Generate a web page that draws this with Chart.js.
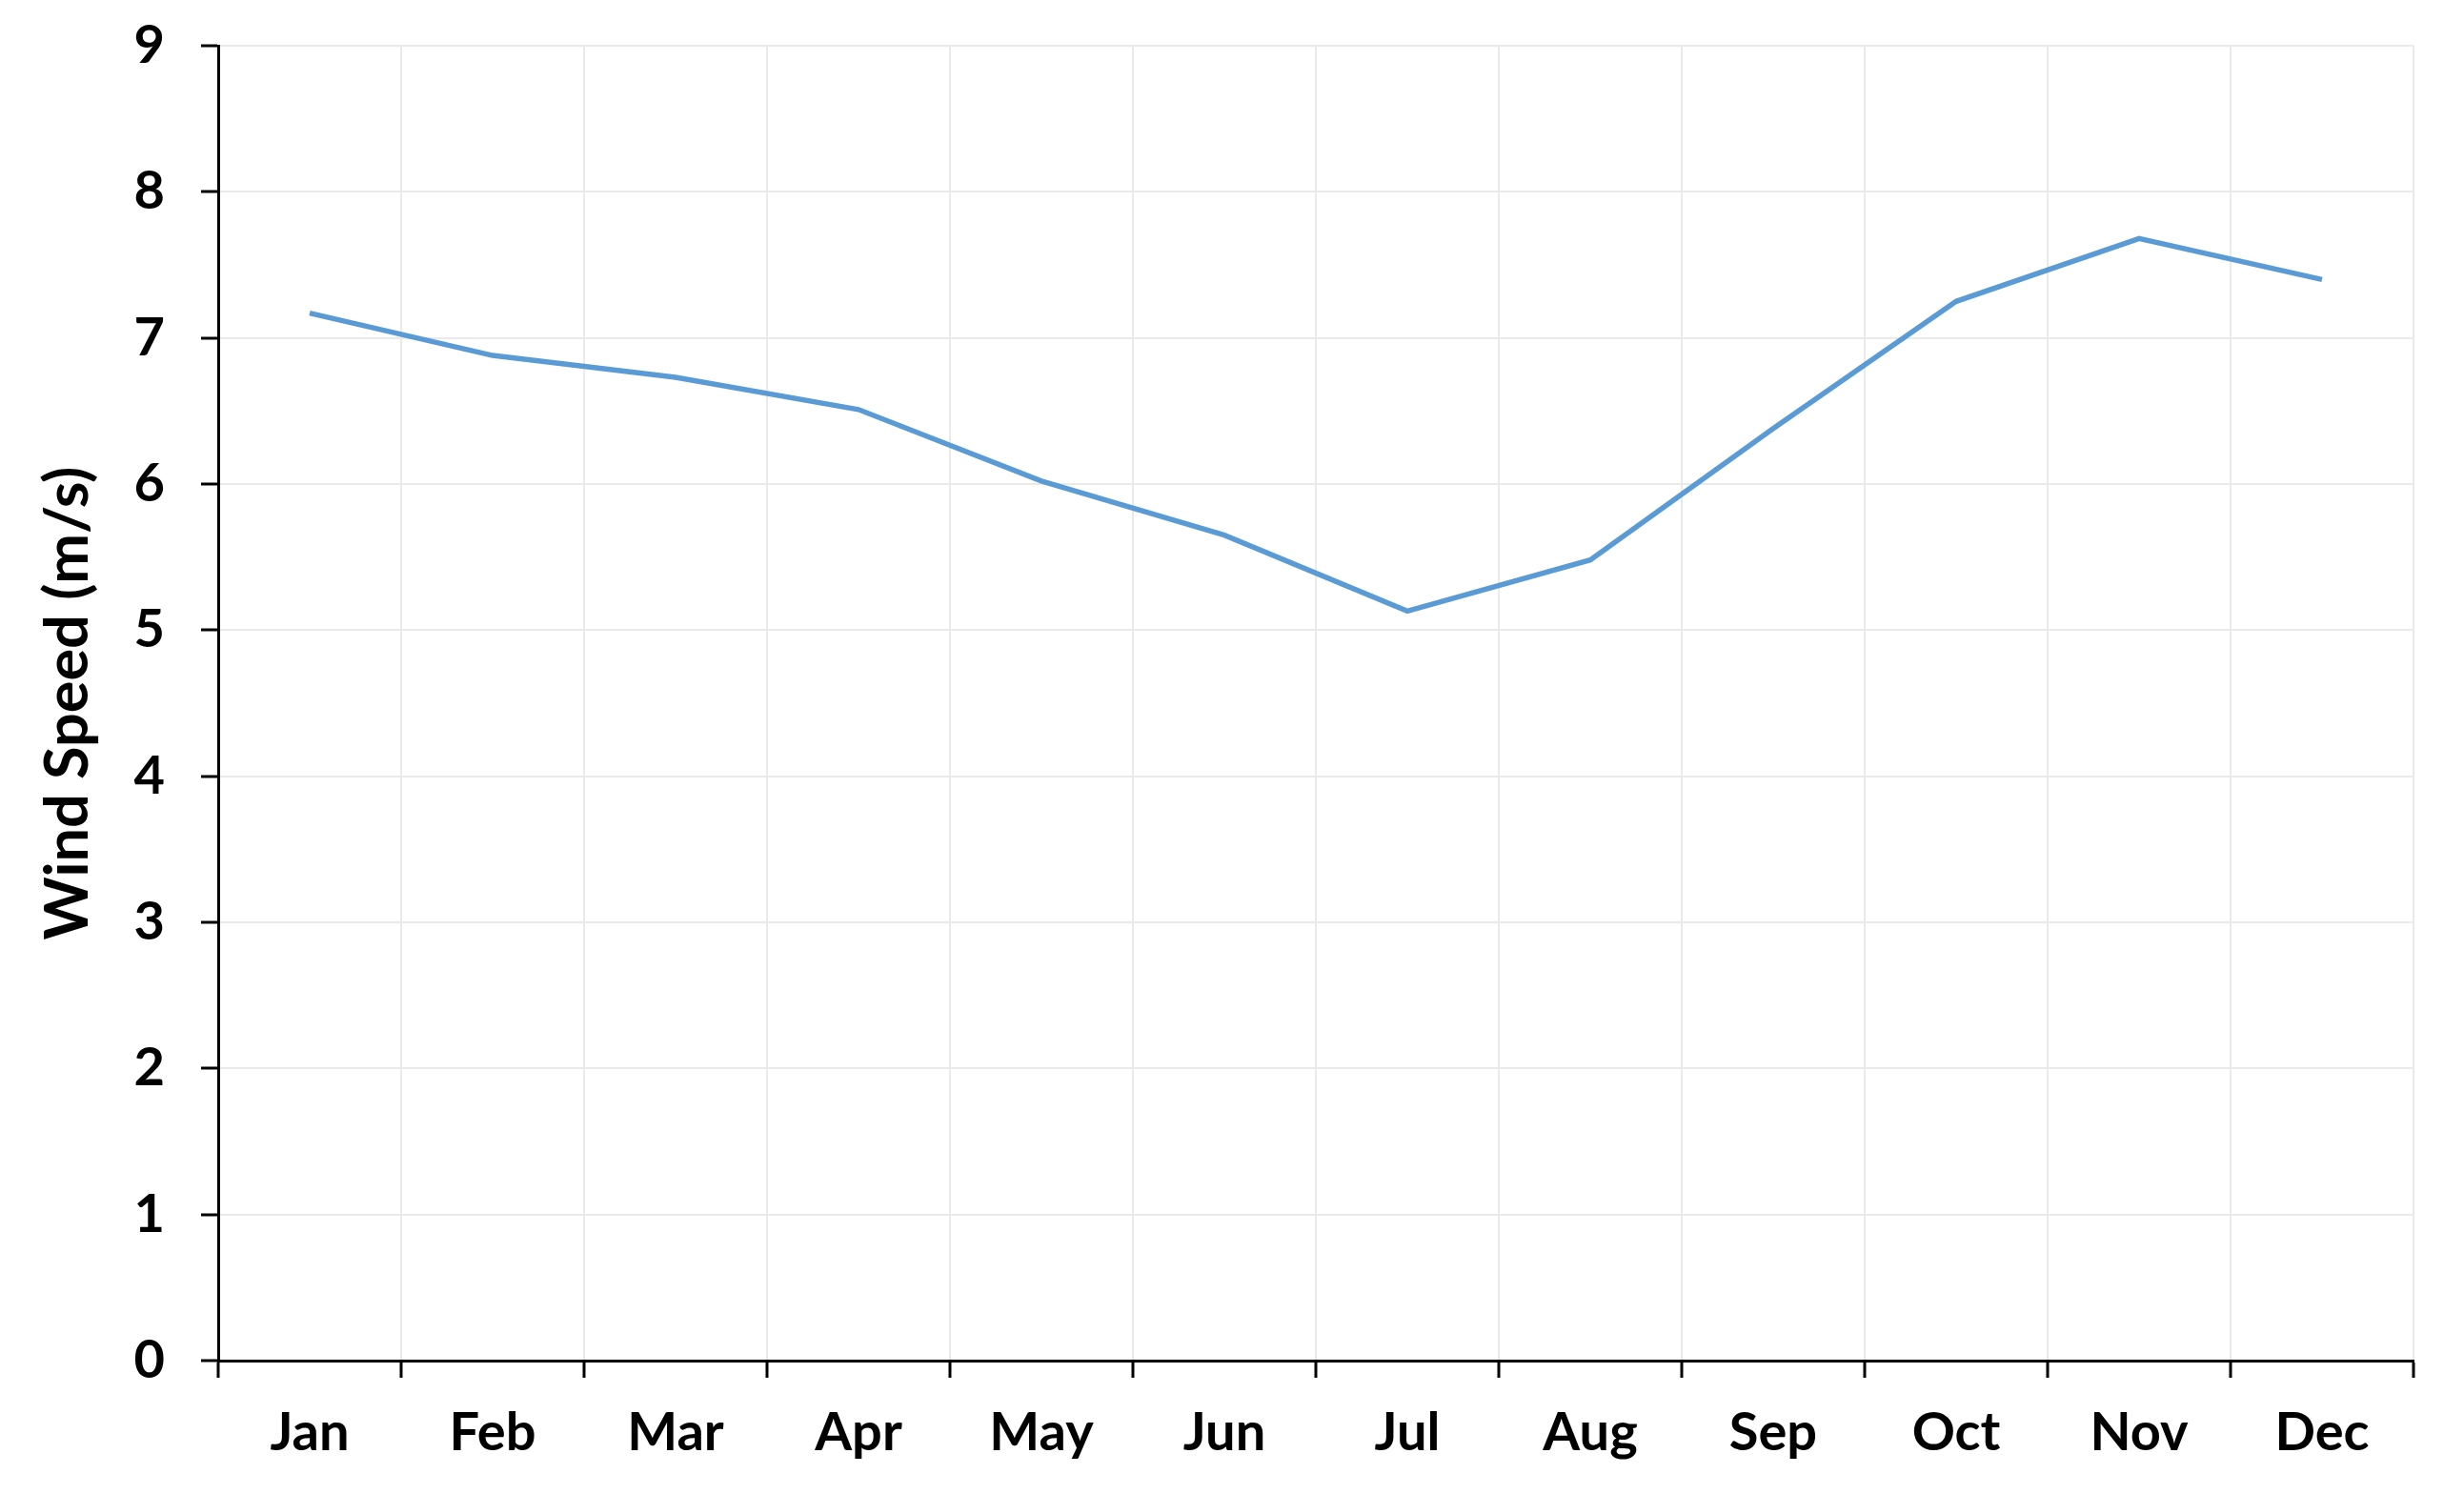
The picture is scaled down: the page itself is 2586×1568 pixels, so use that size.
<!DOCTYPE html>
<html>
<head>
<meta charset="utf-8">
<script src="https://cdn.jsdelivr.net/npm/chart.js@4"></script>
<style>
  html, body { margin: 0; padding: 0; background: #ffffff; }
  #wrap { width: 2586px; height: 1568px; }
</style>
</head>
<body>
<div id="wrap"><canvas id="c" width="2586" height="1568"></canvas></div>
<script>
const months = ["Jan","Feb","Mar","Apr","May","Jun","Jul","Aug","Sep","Oct","Nov","Dec"];
const windSpeed = [7.17, 6.88, 6.73, 6.51, 6.02, 5.65, 5.13, 5.48, 6.38, 7.25, 7.68, 7.40];
const yTicks = [0,1,2,3,4,5,6,7,8,9];
const yTitle = "Wind Speed (m/s)";

const FONT = "Lato, 'Open Sans', sans-serif";

new Chart(document.getElementById('c'), {
  type: 'line',
  data: {
    labels: months,
    datasets: [{
      data: windSpeed,
      borderColor: '#5B9BD5',
      borderWidth: 5.5,
      pointRadius: 0,
      tension: 0,
      fill: false
    }]
  },
  options: {
    responsive: false,
    animation: false,
    devicePixelRatio: 1,
    layout: { padding: { left: 0, right: 53, top: 48, bottom: 0 } },
    plugins: { legend: { display: false }, tooltip: { enabled: false } },
    scales: {
      x: {
        type: 'category',
        offset: true,
        grid: {
          offset: true,
          color: '#EAEAEA',
          lineWidth: 2,
          drawTicks: true,
          tickLength: 18,
          tickColor: '#000000',
          tickWidth: 3
        },
        border: { color: '#000000', width: 3 },
        ticks: {
          color: '#000000',
          font: { family: FONT, size: 56, weight: 'bold' },
          padding: 24,
          maxRotation: 0,
          autoSkip: false
        },
        afterFit: (s) => { s.height = 140; s.paddingLeft = 0; s.paddingRight = 0; }
      },
      y: {
        min: 0,
        max: 9,
        afterBuildTicks: (s) => { s.ticks = yTicks.map(v => ({ value: v })); },
        grid: {
          color: '#EAEAEA',
          lineWidth: 2,
          drawTicks: true,
          tickLength: 18,
          tickColor: '#000000',
          tickWidth: 3
        },
        border: { color: '#000000', width: 3 },
        ticks: {
          color: '#000000',
          font: { family: FONT, size: 56, weight: 'bold' },
          padding: 38
        },
        title: {
          display: true,
          text: yTitle,
          color: '#000000',
          font: { family: FONT, size: 63, weight: 'bold' },
          padding: { top: 34, bottom: 0 }
        },
        afterFit: (s) => { s.width = 229; s.paddingTop = 0; s.paddingBottom = 0; }
      }
    }
  }
});
</script>
</body>
</html>
